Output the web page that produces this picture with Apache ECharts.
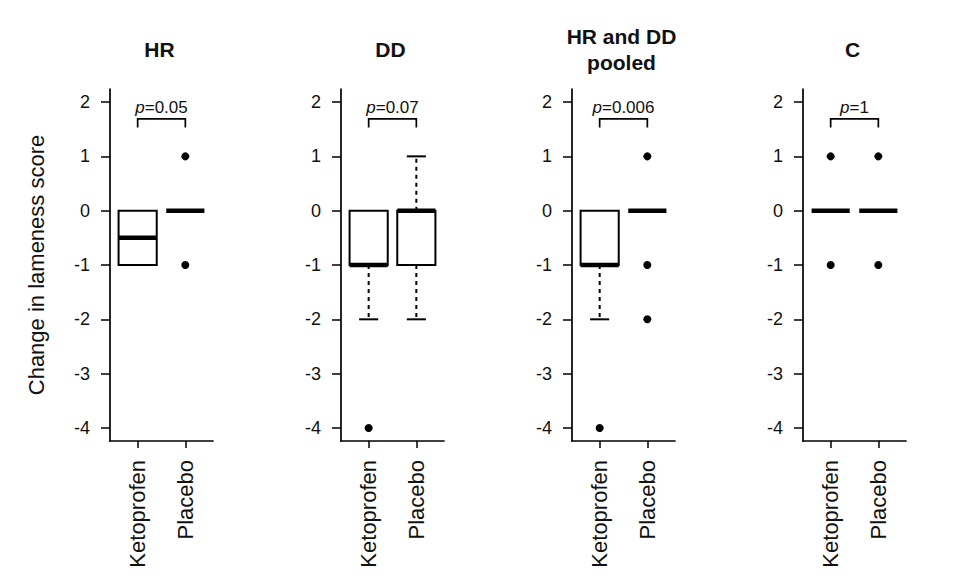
<!DOCTYPE html>
<html>
<head>
<meta charset="utf-8">
<script src="https://cdn.jsdelivr.net/npm/echarts@6/dist/echarts.min.js"></script>
<style>
  html, body { margin: 0; padding: 0; background: #ffffff; }
  #chart { width: 966px; height: 588px; }
</style>
</head>
<body>
<div id="chart"></div>
<script>
// ---------------- data ----------------
const panelTitles = ['HR', 'DD', 'HR and DD\npooled', 'C'];
const groups = ['Ketoprofen', 'Placebo'];
const pValues = ['0.05', '0.07', '0.006', '1'];
const yTicks = [-4, -3, -2, -1, 0, 1, 2];
const yAxisTitle = 'Change in lameness score';

// five-number summaries per group: [lower whisker, Q1, median, Q3, upper whisker]
const hrStats = [[-1, -1, -0.5, 0, 0], [0, 0, 0, 0, 0]];
const ddStats = [[-2, -1, -1, 0, 0], [-2, -1, 0, 0, 1]];
const pooledStats = [[-2, -1, -1, 0, 0], [0, 0, 0, 0, 0]];
const cStats = [[0, 0, 0, 0, 0], [0, 0, 0, 0, 0]];

// outliers per group
const hrOutliers = [[], [1, -1]];
const ddOutliers = [[-4], []];
const pooledOutliers = [[-4], [1, -1, -2]];
const cOutliers = [[1, -1], [1, -1]];

const panelStats = [hrStats, ddStats, pooledStats, cStats];
const panelOutliers = [hrOutliers, ddOutliers, pooledOutliers, cOutliers];

// ---------------- layout / style ----------------
const gridLefts = [110, 341, 572, 803];
const gridTop = 89, gridW = 103, gridH = 352;
const X_MIN = 0.42, X_MAX = 2.58;
const Y_MIN = -4.24, Y_MAX = 2.24;
const BOX_W = 0.8, STAPLE_W = 0.4;
const BRACKET_TOP = 1.69, BRACKET_LEG = 1.53, P_TEXT_Y = 1.9;
const INK = '#000000';
const TEXT = '#111111';
const SANS = "'Liberation Sans', Arial, sans-serif";

function renderBox(params, api) {
  const x = api.value(0);
  const lw = api.value(1), q1 = api.value(2), med = api.value(3), q3 = api.value(4), uw = api.value(5);
  const half = api.size([BOX_W, 0])[0] / 2;
  const sHalf = api.size([STAPLE_W, 0])[0] / 2;
  const cx = api.coord([x, med])[0];
  const yq1 = api.coord([x, q1])[1];
  const yq3 = api.coord([x, q3])[1];
  const ym = api.coord([x, med])[1];
  const ylw = api.coord([x, lw])[1];
  const yuw = api.coord([x, uw])[1];
  const children = [];
  const dash = { stroke: INK, lineWidth: 2, lineDash: [4, 4] };
  const solid = { stroke: INK, lineWidth: 2 };
  if (uw > q3) {
    children.push({ type: 'line', shape: { x1: cx, y1: yq3, x2: cx, y2: yuw }, style: dash });
    children.push({ type: 'line', shape: { x1: cx - sHalf, y1: yuw, x2: cx + sHalf, y2: yuw }, style: solid });
  }
  if (lw < q1) {
    children.push({ type: 'line', shape: { x1: cx, y1: yq1, x2: cx, y2: ylw }, style: dash });
    children.push({ type: 'line', shape: { x1: cx - sHalf, y1: ylw, x2: cx + sHalf, y2: ylw }, style: solid });
  }
  if (q3 > q1) {
    children.push({ type: 'rect', shape: { x: cx - half, y: yq3, width: half * 2, height: yq1 - yq3 },
      style: { fill: 'rgba(0,0,0,0)', stroke: INK, lineWidth: 2 } });
  }
  children.push({ type: 'line', shape: { x1: cx - half, y1: ym, x2: cx + half, y2: ym },
    style: { stroke: INK, lineWidth: 4.5 } });
  return { type: 'group', children: children };
}

function makeBracketRenderer(p) {
  return function (params, api) {
    const a = api.value(0), b = api.value(1);
    const pA = api.coord([a, BRACKET_LEG]);
    const pAt = api.coord([a, BRACKET_TOP]);
    const pBt = api.coord([b, BRACKET_TOP]);
    const pB = api.coord([b, BRACKET_LEG]);
    const pt = api.coord([(a + b) / 2, P_TEXT_Y]);
    return {
      type: 'group',
      children: [
        { type: 'polyline', shape: { points: [pA, pAt, pBt, pB] },
          style: { stroke: INK, lineWidth: 1.7, fill: 'none' } },
        { type: 'text', x: pt[0], y: pt[1],
          style: { text: '{i|p}=' + p, align: 'center', verticalAlign: 'middle',
            fontFamily: SANS, fontSize: 17, fill: TEXT,
            rich: { i: { fontStyle: 'italic', fontFamily: SANS, fontSize: 17, fill: TEXT } } } }
      ]
    };
  };
}

const grids = [], xAxes = [], yAxes = [], series = [], titles = [];
panelTitles.forEach(function (t, i) {
  grids.push({ left: gridLefts[i], top: gridTop, width: gridW, height: gridH });
  const lines = t.split('\n').length;
  titles.push({
    text: t, left: gridLefts[i] + gridW / 2 - 2, top: 49 - lines * 13,
    textAlign: 'center', padding: 0,
    textStyle: { fontFamily: SANS, fontWeight: 'bold', fontSize: 21, lineHeight: 26, color: TEXT }
  });
  xAxes.push({
    type: 'value', gridIndex: i, min: X_MIN, max: X_MAX,
    splitLine: { show: false },
    axisLine: { show: true, onZero: false, lineStyle: { color: INK, width: 1.7 } },
    axisTick: { show: true, customValues: [1, 2], length: 7, lineStyle: { color: INK, width: 1.5 } },
    axisLabel: { show: true, customValues: [1, 2], rotate: 90, margin: 19,
      formatter: function (v) { return groups[Math.round(v) - 1]; },
      fontFamily: SANS, fontSize: 22, color: TEXT }
  });
  yAxes.push({
    type: 'value', gridIndex: i, min: Y_MIN, max: Y_MAX,
    splitLine: { show: false },
    axisLine: { show: true, onZero: false, lineStyle: { color: INK, width: 1.7 } },
    axisTick: { show: true, customValues: yTicks, length: 9, lineStyle: { color: INK, width: 1.5 } },
    axisLabel: { show: true, customValues: yTicks, margin: 20,
      fontFamily: SANS, fontSize: 18, color: TEXT },
    name: i === 0 ? yAxisTitle : '',
    nameLocation: 'middle', nameGap: 63,
    nameTextStyle: { fontFamily: SANS, fontSize: 22, color: TEXT }
  });
  series.push({
    type: 'custom', xAxisIndex: i, yAxisIndex: i,
    renderItem: renderBox,
    encode: { x: 0, y: [1, 2, 3, 4, 5] },
    data: panelStats[i].map(function (s, g) { return [g + 1].concat(s); }),
    silent: true, clip: false
  });
  const outs = [];
  panelOutliers[i].forEach(function (arr, g) { arr.forEach(function (v) { outs.push([g + 1, v]); }); });
  series.push({
    type: 'scatter', xAxisIndex: i, yAxisIndex: i,
    symbol: 'circle', symbolSize: 8, itemStyle: { color: INK, opacity: 1 },
    data: outs, silent: true
  });
  series.push({
    type: 'custom', xAxisIndex: i, yAxisIndex: i,
    renderItem: makeBracketRenderer(pValues[i]),
    encode: { x: [0, 1] },
    data: [[1, 2]], silent: true, clip: false
  });
});

const chart = echarts.init(document.getElementById('chart'), null, { renderer: 'svg' });
chart.setOption({
  backgroundColor: '#ffffff',
  animation: false,
  title: titles,
  grid: grids,
  xAxis: xAxes,
  yAxis: yAxes,
  series: series
});
</script>
</body>
</html>
